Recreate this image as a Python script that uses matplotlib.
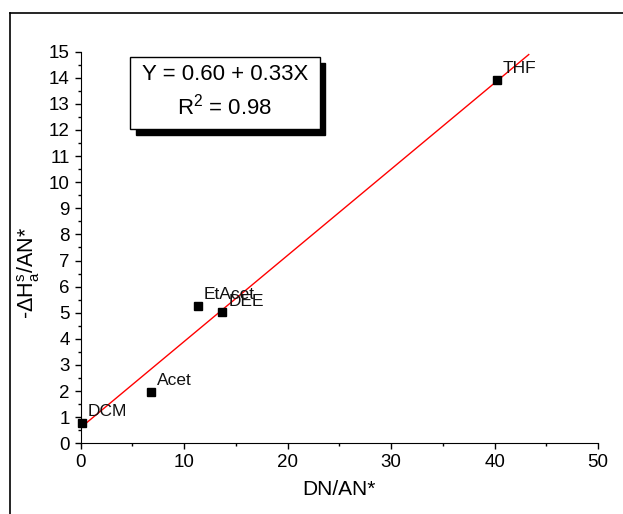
import numpy as np
import matplotlib.pyplot as plt
from matplotlib.patches import Rectangle
from matplotlib.lines import Line2D
from matplotlib.ticker import MultipleLocator

plt.rcParams['font.family'] = ['Liberation Sans', 'DejaVu Sans']
plt.rcParams['mathtext.fontset'] = 'custom'
plt.rcParams['mathtext.rm'] = 'Liberation Sans'
plt.rcParams['mathtext.it'] = 'Liberation Sans'

# solvent data
solvents = ['DCM', 'Acet', 'EtAcet', 'DEE', 'THF']
dn_an = [0.1, 6.8, 11.3, 13.7, 40.2]
dh_an = [0.79, 1.98, 5.27, 5.03, 13.93]

# linear fit Y = a + bX
fit_a = 0.60
fit_b = 0.33
fit_x = np.array([0, 43.3])

fig = plt.figure(figsize=(6.23, 5.14), dpi=100)
ax = fig.add_axes([0.1295, 0.1375, 0.8305, 0.762])

ax.plot(fit_x, fit_a + fit_b * fit_x, color='red', linewidth=1)
ax.plot(dn_an, dh_an, 's', color='black', markersize=6, clip_on=False, zorder=3)

for name, x, y in zip(solvents, dn_an, dh_an):
    ax.annotate(name, (x, y), xytext=(4.5, 4.5), textcoords='offset points',
                ha='left', va='baseline', fontsize=12.5, color='#111111')

ax.set_xlim(0, 50)
ax.set_ylim(0, 15)
ax.xaxis.set_major_locator(MultipleLocator(10))
ax.xaxis.set_minor_locator(MultipleLocator(5))
ax.yaxis.set_major_locator(MultipleLocator(1))
ax.yaxis.set_minor_locator(MultipleLocator(0.5))
ax.tick_params(which='major', direction='out', length=4, width=1, labelsize=13.5, pad=4)
ax.tick_params(which='minor', direction='out', length=2.2, width=1)
ax.spines['top'].set_visible(False)
ax.spines['right'].set_visible(False)

ax.set_xlabel('DN/AN*', fontsize=15)
ax.set_ylabel(r'-$\Delta$H$_a^s$/AN*', fontsize=15.5)
ax.xaxis.set_label_coords(0.5, -0.094)
ax.yaxis.set_label_coords(-0.075, 0.435)

# equation box with shadow
ax.add_patch(Rectangle((0.1067, 0.7865), 0.3663, 0.1854, transform=ax.transAxes,
                       facecolor='black', edgecolor='black', zorder=4))
ax.add_patch(Rectangle((0.0959, 0.8018), 0.3663, 0.1854, transform=ax.transAxes,
                       facecolor='white', edgecolor='black', linewidth=1, zorder=5))
ax.text(0.279, 0.9405, 'Y = 0.60 + 0.33X', transform=ax.transAxes, fontsize=16,
        ha='center', va='center', zorder=6)
ax.text(0.279, 0.8596, r'R$^2$ = 0.98', transform=ax.transAxes, fontsize=16,
        ha='center', va='center', zorder=6)

# outer frame (top and left visible)
fig.add_artist(Line2D([10 / 623, 1], [1 - 12.5 / 514, 1 - 12.5 / 514], color='black', linewidth=1.2))
fig.add_artist(Line2D([10 / 623, 10 / 623], [0, 1 - 12.5 / 514], color='black', linewidth=1.2))

plt.savefig('out.png', dpi=100)
